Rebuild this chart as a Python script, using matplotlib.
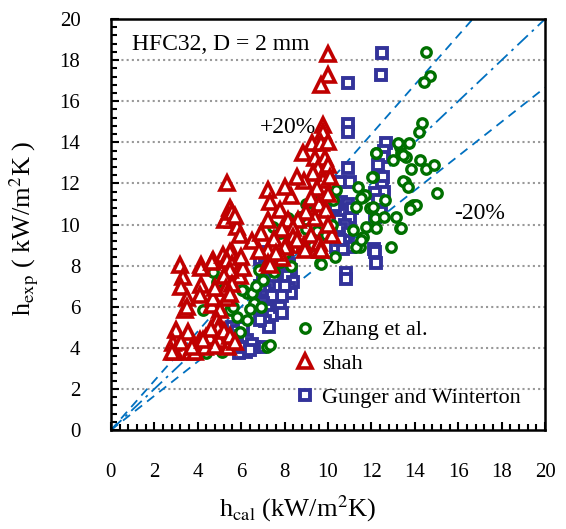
import matplotlib

matplotlib.use("Agg")
import matplotlib.pyplot as plt
import numpy as np
from matplotlib.ticker import MultipleLocator

# Zhang et al. (h_cal, h_exp)
zhang_x = [4.4, 5.1, 4.25, 4.71, 5.17, 4.93, 5.48, 5.79, 5.94, 6.09, 5.63, 6.25, 6.02, 6.48, 6.25, 6.6,
           6.9, 7.17, 7.32, 5.5, 5.3, 6.7, 7.0, 6.8, 4.9, 6.4,
           7.5, 7.8, 8.0, 7.47, 7.78, 8.15, 8.7, 8.85, 9.0, 9.2, 9.5, 9.62, 9.7, 9.9, 10.24, 10.39, 10.2,
           10.31, 8.3, 8.8, 9.3, 7.2, 9.0, 8.5, 9.7,
           11.62, 11.31, 11.16, 11.62, 11.46, 11.39, 11.7, 11.54, 11.77, 11.31, 11.54, 11.92, 12.15, 12.08,
           12.2, 12.23, 12.6, 12.03, 12.06, 12.61, 12.92, 13.15, 13.3, 13.38, 13.77, 13.9, 13.54, 13.46,
           13.69, 13.3, 13.23, 13.74, 13.38, 13.61, 13.0, 14.23, 13.84, 14.53, 14.87, 15.03, 14.07, 13.77,
           14.32, 14.17, 14.5, 14.69, 14.41, 12.23, 13.46]
zhang_y = [3.75, 3.8, 5.84, 7.7, 4.38, 5.03, 5.84, 5.51, 4.78, 6.8, 6.0, 6.65, 6.81, 6.65, 5.35, 6.2,
           6.0, 4.05, 4.14, 7.1, 7.6, 7.0, 7.3, 7.8, 7.2, 5.9,
           7.7, 8.2, 8.6, 9.89, 9.57, 10.3, 10.38, 12.08, 11.0, 10.6, 9.7, 8.11, 8.1, 9.5, 11.19, 11.68, 10.0,
           8.43, 8.0, 8.8, 9.0, 8.0, 9.8, 9.2, 11.3,
           11.35, 10.87, 9.73, 9.41, 8.92, 11.84, 11.44, 11.27, 9.89, 8.92, 9.25, 10.79, 10.3, 12.33,
           13.46, 9.81, 10.38, 12.33, 10.87, 11.19, 8.92, 10.38, 9.81, 9.84, 10.87, 10.95, 12.08, 12.12,
           11.84, 13.79, 13.95, 13.95, 13.46, 13.3, 13.14, 13.14, 12.7, 12.7, 12.9, 11.52, 10.95, 10.74,
           14.95, 14.52, 18.38, 17.24, 16.92, 13.46, 13.38]

# shah
shah_x = [10.0, 10.0, 9.7, 9.75, 9.78, 9.24, 9.7, 10.0, 8.85, 9.39, 9.85, 9.55, 10.0, 9.78, 9.3, 8.9,
          9.5, 10.1, 9.2, 9.6, 10.0, 9.9, 9.4, 9.0, 8.6, 8.3, 8.55, 8.01, 7.24, 7.32, 7.78, 7.24, 8.16,
          8.39, 7.9, 7.5, 8.4, 8.9, 9.2, 9.6, 10.2, 10.0, 8.55, 8.09, 8.93, 9.62, 9.7, 7.24, 8.01, 7.86,
          7.24, 7.32, 6.5, 6.9, 6.8, 7.6,
          5.33, 5.48, 5.4, 5.63, 5.25, 5.79, 5.94, 5.56, 5.7,
          4.71, 5.17, 5.56, 4.17, 3.18, 4.17, 4.64, 5.17, 5.48, 5.33, 5.6, 5.79, 5.94, 5.5, 5.2, 6.1, 6.0,
          3.33, 3.25, 3.49, 3.4, 3.49, 4.17, 4.1, 4.64, 4.71, 5.02, 4.87, 4.94, 5.33, 5.3, 4.79, 5.6, 5.5,
          3.02, 3.56, 2.87, 2.95, 3.25, 3.87, 4.1, 4.4, 4.33, 3.64, 3.87, 5.4, 2.8, 4.56, 5.0, 5.2, 5.5,
          5.7, 4.8, 4.6, 3.72, 4.25]
shah_y = [18.3, 17.3, 16.8, 14.84, 14.5, 13.95, 13.95, 14.0, 13.46, 13.22, 13.22, 12.73, 12.9, 12.17, 12.5, 12.1,
          11.8, 12.3, 11.3, 11.0, 11.5, 10.7, 10.3, 10.6, 10.2, 11.4, 12.33, 11.84, 11.68, 11.11, 10.7, 10.22, 10.22,
          9.81, 9.8, 9.3, 9.4, 9.0, 9.5, 9.1, 9.5, 10.0, 9.25, 9.0, 8.76, 8.76, 8.76, 8.76, 8.92, 8.35,
          8.11, 8.03, 9.2, 9.6, 8.7, 8.6,
          12.0, 10.79, 10.46, 10.22, 10.22, 9.89, 9.49, 10.6, 10.4,
          8.27, 8.43, 8.68, 8.03, 8.03, 7.87, 8.19, 8.52, 8.68, 8.27, 8.1, 7.62, 7.5, 7.8, 7.5, 7.9, 8.4,
          7.46, 6.97, 6.41, 5.84, 6.0, 7.06, 6.57, 6.08, 6.41, 5.84, 5.35, 4.95, 6.41, 6.9, 6.9, 7.1, 6.6,
          4.87, 4.78, 4.22, 3.81, 4.3, 4.05, 4.38, 4.54, 4.05, 3.81, 3.81, 4.05, 3.81, 4.54, 4.4, 4.8, 4.6,
          4.3, 4.1, 4.9, 4.05, 4.38]

# Gunger and Winterton
gunger_x = [12.5, 12.42, 10.94, 10.93, 10.93,
            12.65, 12.6, 12.55, 12.3, 12.54, 12.5, 12.6, 12.15, 12.38, 12.15, 12.3, 12.45, 12.1, 12.15, 12.23,
            10.93, 10.54, 11.0, 10.6, 10.9, 10.5, 10.7, 11.0, 10.5, 10.8, 10.6, 10.9, 10.5, 10.8, 10.39, 11.0,
            10.7, 10.85, 10.85, 11.1, 10.3, 10.54,
            8.09, 8.2, 8.3, 8.1, 8.39, 8.2, 8.3, 8.0, 7.9,
            7.0, 6.86, 7.1, 7.2, 7.0, 7.3, 7.1, 7.4, 7.0, 7.2, 7.4, 7.1, 7.3, 7.78, 7.86, 7.5, 7.6, 6.86,
            6.86, 6.86,
            5.6, 5.8, 6.0, 6.25, 5.7, 6.0, 6.2, 5.9, 6.1, 5.94, 6.86, 6.6, 6.5, 6.4]
gunger_y = [18.36, 17.26, 16.87, 14.89, 14.52,
            13.97, 13.6, 13.3, 12.9, 12.33, 11.9, 11.6, 11.53, 10.87, 10.38, 11.2, 10.6, 8.8, 8.68, 8.11,
            12.73, 12.08, 12.08, 11.1, 11.0, 10.7, 10.5, 10.3, 10.2, 10.0, 9.8, 9.6, 9.4, 9.2, 8.92, 8.9,
            8.8, 7.62, 7.35, 10.8, 10.9, 9.25,
            8.4, 8.1, 7.8, 7.5, 7.2, 6.9, 6.65, 7.0, 6.5,
            8.68, 8.3, 8.0, 7.7, 7.4, 7.1, 6.8, 6.5, 6.2, 5.9, 5.6, 5.3, 5.0, 6.0, 5.68, 7.5, 8.0, 7.0,
            6.0, 5.35,
            5.0, 4.8, 4.6, 4.4, 4.2, 4.0, 3.8, 3.75, 5.0, 4.05, 4.05, 4.05, 4.2, 3.9]

plt.rcParams["font.family"] = "Liberation Serif"
plt.rcParams["mathtext.fontset"] = "stix"

fig = plt.figure(figsize=(5.66, 5.29), dpi=100)
ax = fig.add_axes([0.196, 0.187, 0.767, 0.777])

line_x = np.array([0, 20])
ax.plot(line_x, line_x, color="#0070C0", lw=1.3, linestyle=(0, (8, 3, 1.5, 3)), zorder=1)
ax.plot(line_x, line_x * 1.2, color="#0070C0", lw=1.3, linestyle=(0, (5, 3.5)), zorder=1)
ax.plot(line_x, line_x / 1.2, color="#0070C0", lw=1.3, linestyle=(0, (5, 3.5)), zorder=1)

h_blue, = ax.plot(gunger_x, gunger_y, linestyle="none", marker="s", ms=6.5, mfc="white",
                  mec="#33339A", mew=2.8, label="Gunger and Winterton", zorder=3)
h_green, = ax.plot(zhang_x, zhang_y, linestyle="none", marker="o", ms=6.8, mfc="white",
                   mec="#007000", mew=2.4, label="Zhang et al.", zorder=4)
h_red, = ax.plot(shah_x, shah_y, linestyle="none", marker="^", ms=9.5, mfc="white",
                 mec="#C00000", mew=2.6, label="shah", zorder=5)

ax.set_xlim(0, 20)
ax.set_ylim(0, 20)
ax.xaxis.set_major_locator(MultipleLocator(2))
ax.yaxis.set_major_locator(MultipleLocator(2))
ax.xaxis.set_minor_locator(MultipleLocator(0.4))
ax.yaxis.set_minor_locator(MultipleLocator(0.4))
ax.tick_params(which="both", direction="in", top=False, right=False, width=1.5, labelsize=15)
ax.tick_params(which="major", length=6)
ax.tick_params(which="minor", length=4)
ax.tick_params(axis="x", pad=24)
ax.tick_params(axis="y", pad=22)
for spine in ax.spines.values():
    spine.set_linewidth(1.8)

for yv in range(2, 20, 2):
    ax.axhline(yv, color="#999999", lw=1.5, linestyle=(0, (1, 1.5)), zorder=0)

ax.text(0.97, 18.75, "HFC32, D = 2 mm", fontsize=17, va="center", ha="left")
ax.text(8.15, 14.7, "+20%", fontsize=17, va="center", ha="center")
ax.text(17.0, 10.55, "-20%", fontsize=17, va="center", ha="center")

ax.set_xlabel(r"h$_{\mathrm{cal}}$ (kW/m$^{2}$K)", fontsize=19)
ax.xaxis.set_label_coords(0.43, -0.155)
ax.set_ylabel(r"h$_{\mathrm{exp}}$ ( kW/m$^{2}$K )", fontsize=19)
ax.yaxis.set_label_coords(-0.16, 0.49)

ax.legend(handles=[h_green, h_red, h_blue], loc="upper left", bbox_to_anchor=(0.405, 0.29),
          frameon=False, fontsize=16, handlelength=0.8, handletextpad=0.4, labelspacing=0.6,
          borderaxespad=0)

fig.savefig("out.png", dpi=100)
